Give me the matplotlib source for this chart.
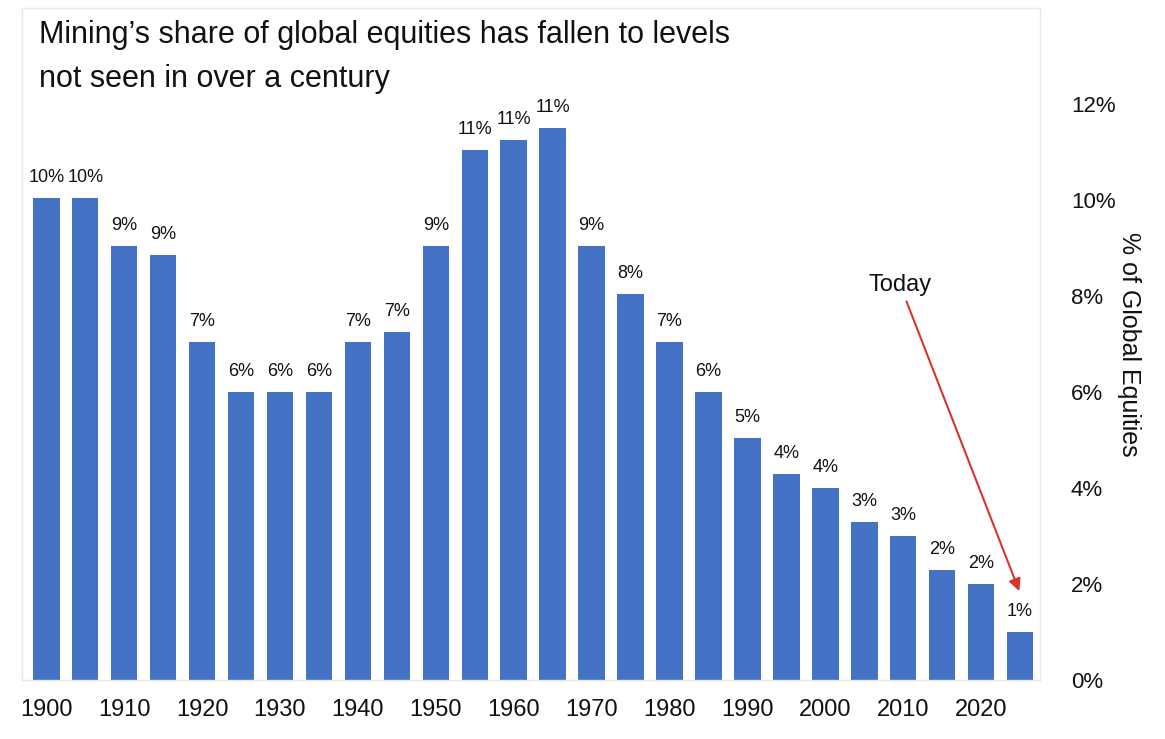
import matplotlib.pyplot as plt
from matplotlib import font_manager

# data
years = [1900, 1905, 1910, 1915, 1920, 1925, 1930, 1935, 1940, 1945, 1950, 1955, 1960,
         1965, 1970, 1975, 1980, 1985, 1990, 1995, 2000, 2005, 2010, 2015, 2020, 2025]
share = [10.05, 10.05, 9.05, 8.85, 7.05, 6.0, 6.0, 6.0, 7.05, 7.25, 9.05, 11.05, 11.25,
         11.5, 9.05, 8.05, 7.05, 6.0, 5.05, 4.3, 4.0, 3.3, 3.0, 2.3, 2.0, 1.0]
bar_labels = ['10%', '10%', '9%', '9%', '7%', '6%', '6%', '6%', '7%', '7%', '9%', '11%', '11%',
              '11%', '9%', '8%', '7%', '6%', '5%', '4%', '4%', '3%', '3%', '2%', '2%', '1%']
xtick_years = [1900, 1910, 1920, 1930, 1940, 1950, 1960, 1970, 1980, 1990, 2000, 2010, 2020]
ytick_vals = [0, 2, 4, 6, 8, 10, 12]

# pick a narrow font if there is one
names = set(f.name for f in font_manager.fontManager.ttflist)
font = 'Liberation Sans Narrow' if 'Liberation Sans Narrow' in names else 'Liberation Sans'
plt.rcParams['font.family'] = [font, 'DejaVu Sans']

fig = plt.figure(figsize=(11.65, 7.39), dpi=100)
ax = fig.add_axes([0.019, 0.080, 0.874, 0.909])

bars = ax.bar(years, share, width=3.4, color='#4472C4')
for b, lab in zip(bars, bar_labels):
    ax.text(b.get_x() + b.get_width() / 2, b.get_height() + 0.25, lab,
            ha='center', va='bottom', fontsize=13, color='#111111')

ax.set_xlim(1896.9, 2027.6)
ax.set_ylim(0, 14)
ax.set_xticks(xtick_years)
ax.set_xticklabels([str(y) for y in xtick_years], fontsize=17)
ax.set_yticks(ytick_vals)
ax.set_yticklabels(['%d%%' % v for v in ytick_vals], fontsize=16)
ax.yaxis.tick_right()
ax.yaxis.set_label_position('right')
ax.tick_params(axis='both', length=0, colors='#111111')
ax.tick_params(axis='y', pad=22)
ax.tick_params(axis='x', pad=14)
ax.set_ylabel('% of Global Equities', fontsize=18, rotation=-90, labelpad=18, color='#111111')

for s in ax.spines.values():
    s.set_color('#e8e8e8')
    s.set_linewidth(1)

ax.text(0.017, 0.982, "Mining\u2019s share of global equities has fallen to levels\nnot seen in over a century",
        transform=ax.transAxes, ha='left', va='top', fontsize=22, color='#111111', linespacing=1.6)

# "Today" pointer
ax.annotate('Today', xy=(2024.9, 1.85), xytext=(2009.6, 8.0),
            ha='center', va='bottom', fontsize=17, color='#111111',
            arrowprops=dict(arrowstyle='-|>', color='#d9342b', lw=1.5, mutation_scale=18,
                            shrinkA=2, shrinkB=0))

fig.savefig('out.png', dpi=100)
